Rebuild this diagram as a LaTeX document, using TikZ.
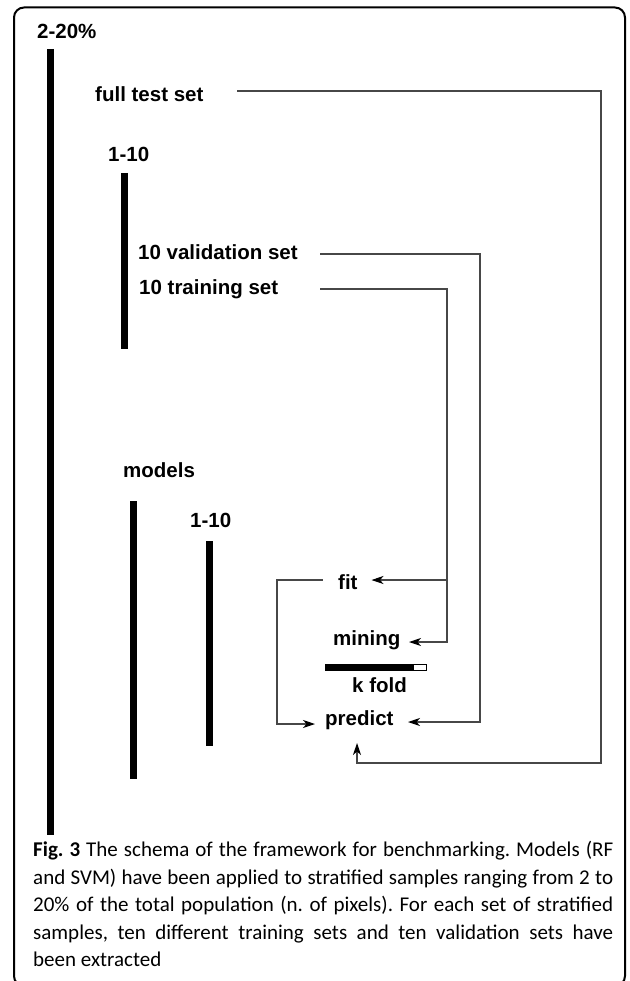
\documentclass[tikz,border=0pt]{standalone}
\usepackage{fontspec}
\setmainfont{Liberation Sans}
\newfontfamily\capfont{Carlito}
\usetikzlibrary{arrows.meta}
\begin{document}
\begin{tikzpicture}[x=1pt,y=-1pt,
  lbl/.style={font=\fontsize{20.5}{24}\selectfont\bfseries, inner sep=0pt, anchor=base west},
  bar/.style={line width=7pt, black},
  conn/.style={draw=black!72, line width=1.1pt},
  arr/.style={conn, -{Stealth[length=12pt,width=8pt,inset=3.5pt,color=black]}},
  thinbox/.style={draw=black, line width=0.6pt},
]
\path[use as bounding box] (0,0) rectangle (629,981);
% frame
\draw[line width=2pt, rounded corners=10pt] (14,7.5) rectangle (625,986);

% labels
\node[lbl] (pct)   at (37,39)    {2-20\%};
\node[lbl] (full)  at (95,101.5) {full test set};
\node[lbl] (ten1)  at (108,162)  {1-10};
\node[lbl] (val)   at (138,259.5){10 validation set};
\node[lbl] (train) at (139,294.5){10 training set};
\node[lbl] (models)at (123,477)  {models};
\node[lbl] (ten2)  at (190,527)  {1-10};
\node[lbl] (fit)   at (338,589)  {fit};
\node[lbl] (mining)at (333,645.5){mining};
\node[lbl] (kfold) at (352,692)  {k fold};
\node[lbl] (predict)at(325,725.5){predict};

% bars
\draw[bar] (50.5,49) -- (50.5,835);
\draw[bar] (124.5,173) -- (124.5,349);
\draw[bar] (133.5,501) -- (133.5,779);
\draw[bar] (209.5,541) -- (209.5,746);
\filldraw[thinbox, fill=black] (325,664) rectangle (413,670);
\filldraw[thinbox, fill=white] (413,664) rectangle (426,670);

% connector coordinates
\coordinate (ftS) at (237,91);
\coordinate (ftC) at (601,763);
\coordinate (pUp) at (357,743);
\coordinate (vaS) at (320,254);
\coordinate (vaC) at (480,722);
\coordinate (pR)  at (408,722);
\coordinate (trS) at (320,289);
\coordinate (trC) at (447,642);
\coordinate (mIn) at (409,642);
\coordinate (fJ)  at (447,580);
\coordinate (fIn) at (371.5,580);
\coordinate (fOut) at (322.5,580);
\coordinate (fpC) at (277,724);
\coordinate (pL)  at (315,724);

% connectors
\draw[arr] (ftS) -| (ftC) -| (pUp);
\draw[arr] (vaS) -| (vaC) -- (pR);
\draw[arr] (trS) -| (trC) -- (mIn);
\draw[arr] (fJ) -- (fIn);
\draw[arr] (fOut) -| (fpC) -- (pL);

% caption
\node[anchor=north west, inner sep=0pt, text width=580pt, align=justify,
      font=\capfont\fontsize{21}{27.5}\selectfont] (cap) at (33,841)
  {\frenchspacing\textbf{Fig. 3} The schema of the framework for benchmarking. Models (RF\linebreak
   and SVM) have been applied to stratified samples ranging from 2 to\linebreak
   20\% of the total population (n. of pixels). For each set of stratified\linebreak
   samples, ten different training sets and ten validation sets have\linebreak
   been extracted};
\end{tikzpicture}
\end{document}
